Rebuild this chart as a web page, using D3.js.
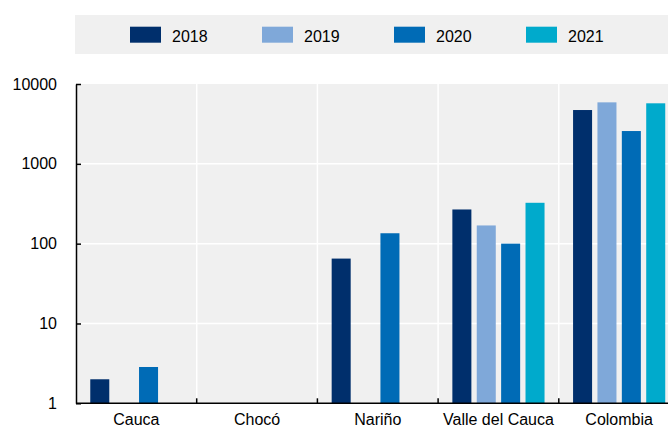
<!DOCTYPE html>
<html lang="en">
    <head>
        <meta charset="utf-8">
        <title>Log bar chart</title>
        <script type="text/javascript" src="https://cdnjs.cloudflare.com/ajax/libs/d3/7.8.5/d3.min.js"></script>
        <style>
            body { margin: 0; background: #fff; }
            svg { display: block; font-family: "Liberation Sans", Arial, sans-serif; }
            .axis text { font-size: 16px; fill: #000; }
        </style>
    </head>
    <body>
        <div id="chart"></div>
        <script type="text/javascript">
            // data (null = no value)
            var categories = ["Cauca", "Chocó", "Nariño", "Valle del Cauca", "Colombia"];
            var years = ["2018", "2019", "2020", "2021"];
            var v2018 = [2, null, 65, 268, 4720];
            var v2019 = [null, null, null, 169, 5890];
            var v2020 = [2.85, null, 135, 100, 2575];
            var v2021 = [null, null, null, 325, 5730];
            var yTicks = [1, 10, 100, 1000, 10000];
            var colors = ["#002f6c", "#7fa8d9", "#006bb6", "#00aacc"];

            var series = [v2018, v2019, v2020, v2021];
            var width = 668, height = 429;
            // plot edges (window.top is reserved, so plotTop)
            var plotLeft = 76, plotTop = 84, plotBottom = 403.3;
            var catWidth = 120.7;

            var svg = d3.select("#chart").append("svg")
                .attr("width", width)
                .attr("height", height);

            var x = d3.scaleBand()
                .domain(categories)
                .range([plotLeft, plotLeft + catWidth * categories.length]);
            var xInner = d3.scaleBand()
                .domain(years)
                .range([0, x.bandwidth()])
                .paddingInner(0.22)
                .paddingOuter(0.585);
            var y = d3.scaleLog()
                .domain([1, 10000])
                .range([plotBottom, plotTop]);
            var color = d3.scaleOrdinal().domain(years).range(colors);

            // legend
            svg.append("rect")
                .attr("x", 75).attr("y", 15)
                .attr("width", width - 75).attr("height", 39)
                .attr("fill", "#f0f0f0");
            var legend = svg.selectAll(".legend")
                .data(years)
                .enter().append("g")
                .attr("transform", function(d, i){ return "translate(" + (130 + i * 132) + ",0)"; });
            legend.append("rect")
                .attr("y", 26.7).attr("width", 31).attr("height", 16)
                .attr("fill", function(d){ return color(d); });
            legend.append("text")
                .attr("x", 42).attr("y", 41.6)
                .style("font-size", "16px")
                .text(function(d){ return d; });

            // plot background
            svg.append("rect")
                .attr("x", plotLeft).attr("y", plotTop)
                .attr("width", width - plotLeft).attr("height", plotBottom - plotTop)
                .attr("fill", "#f0f0f0");

            // white grid
            svg.selectAll(".hgrid")
                .data(yTicks.slice(1, -1))
                .enter().append("line")
                .attr("x1", plotLeft).attr("x2", width)
                .attr("y1", function(d){ return y(d); })
                .attr("y2", function(d){ return y(d); })
                .attr("stroke", "#fff").attr("stroke-width", 1.5);
            svg.selectAll(".vgrid")
                .data(categories.slice(1))
                .enter().append("line")
                .attr("x1", function(d){ return x(d); })
                .attr("x2", function(d){ return x(d); })
                .attr("y1", plotTop).attr("y2", plotBottom)
                .attr("stroke", "#fff").attr("stroke-width", 1.5);

            // bars
            var groups = svg.selectAll(".group")
                .data(categories)
                .enter().append("g")
                .attr("transform", function(d){ return "translate(" + x(d) + ",0)"; });
            groups.selectAll("rect")
                .data(function(d, ci){
                    return years.map(function(yr, si){ return {year: yr, value: series[si][ci]}; })
                        .filter(function(e){ return e.value != null; });
                })
                .enter().append("rect")
                .attr("x", function(d){ return xInner(d.year); })
                .attr("width", xInner.bandwidth())
                .attr("y", function(d){ return y(d.value); })
                .attr("height", function(d){ return plotBottom - y(d.value); })
                .attr("fill", function(d){ return color(d.year); });

            // y axis
            svg.append("g")
                .attr("class", "axis")
                .attr("transform", "translate(" + plotLeft + ",0)")
                .call(d3.axisLeft(y).tickValues(yTicks).tickFormat(d3.format("d"))
                    .tickSize(-5).tickPadding(19).tickSizeOuter(0))
                .call(function(g){
                    g.select(".domain").attr("stroke-width", 1.5);
                    g.selectAll(".tick line").attr("stroke-width", 1.5);
                });

            // x axis: labels at centres, ticks at category boundaries
            var xAxis = svg.append("g")
                .attr("class", "axis")
                .attr("transform", "translate(0," + plotBottom + ")")
                .call(d3.axisBottom(x).tickSize(0).tickPadding(10));
            xAxis.select(".domain").remove();
            xAxis.append("line")
                .attr("x1", plotLeft).attr("x2", width)
                .attr("stroke", "#000").attr("stroke-width", 1.5);
            xAxis.selectAll(".bound")
                .data(categories.slice(1))
                .enter().append("line")
                .attr("x1", function(d){ return x(d); })
                .attr("x2", function(d){ return x(d); })
                .attr("y1", 0).attr("y2", -5)
                .attr("stroke", "#000").attr("stroke-width", 1.5);
        </script>
    </body>
</html>
